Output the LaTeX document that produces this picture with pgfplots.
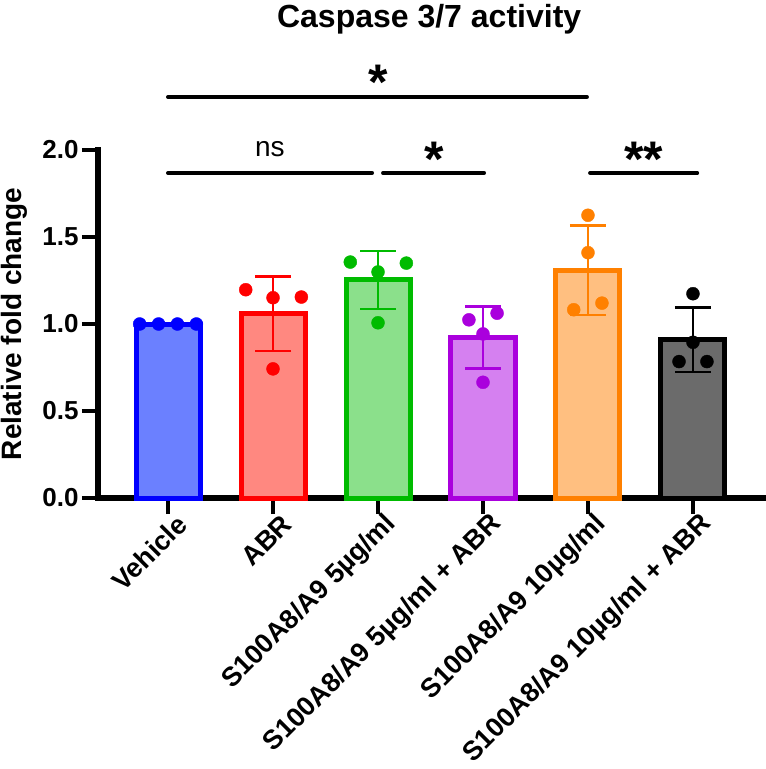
\documentclass[border=0pt]{standalone}
\usepackage{fontspec}
\setmainfont{Liberation Sans}
\usepackage{pgfplots}
\pgfplotsset{compat=1.18}
\definecolor{vehD}{RGB}{0,0,255}
\definecolor{vehF}{RGB}{107,128,255}
\definecolor{abrD}{RGB}{255,0,0}
\definecolor{abrF}{RGB}{255,136,128}
\definecolor{s5D}{RGB}{0,187,0}
\definecolor{s5F}{RGB}{139,224,139}
\definecolor{s5aD}{RGB}{170,0,221}
\definecolor{s5aF}{RGB}{213,128,240}
\definecolor{s10D}{RGB}{255,128,0}
\definecolor{s10F}{RGB}{255,191,128}
\definecolor{s10aD}{RGB}{0,0,0}
\definecolor{s10aF}{RGB}{107,107,107}
\newcommand{\xlblfont}{\fontsize{27}{32}\selectfont\bfseries}
\newcommand{\ylblfont}{\fontsize{26}{31}\selectfont\bfseries}
\begin{document}
\begin{tikzpicture}
\begin{axis}[
  at={(98pt,271pt)}, anchor=south west,
  scale only axis, width=665pt, height=348pt,
  xmin=-0.667, xmax=5.667, ymin=0, ymax=2,
  axis x line*=bottom, axis y line*=left,
  axis line style={line width=5.5pt, line cap=rect},
  clip=false,
  tick align=outside, major tick length=16pt,
  tick style={line width=4pt, black},
  xtick={0,1,2,3,4,5},
  xticklabels={Vehicle, ABR, S100A8/A9 5µg/ml, S100A8/A9 5µg/ml + ABR, S100A8/A9 10µg/ml, S100A8/A9 10µg/ml + ABR},
  xticklabel style={rotate=45, anchor=east, font=\xlblfont, inner sep=2pt, xshift=8pt, yshift=-14pt},
  ytick={0,0.5,1,1.5,2},
  /pgf/number format/assume math mode=true,
  yticklabel={\pgfmathprintnumber[fixed,fixed zerofill,precision=1]{\tick}},
  yticklabel style={font=\ylblfont},
  ylabel={Relative fold change},
  ylabel style={at={(axis description cs:-0.1263,0.5)}, anchor=center, font=\fontsize{28}{33}\selectfont\bfseries},
]
% bars
\addplot[ybar, bar shift=0pt, bar width=64pt, draw=vehD, fill=vehF, line width=5pt] coordinates {(0,1.0)};
\addplot[ybar, bar shift=0pt, bar width=64pt, draw=abrD, fill=abrF, line width=5pt] coordinates {(1,1.06)};
\addplot[ybar, bar shift=0pt, bar width=64pt, draw=s5D, fill=s5F, line width=5pt] coordinates {(2,1.253)};
\addplot[ybar, bar shift=0pt, bar width=64pt, draw=s5aD, fill=s5aF, line width=5pt] coordinates {(3,0.922)};
\addplot[ybar, bar shift=0pt, bar width=64pt, draw=s10D, fill=s10F, line width=5pt] coordinates {(4,1.309)};
\addplot[ybar, bar shift=0pt, bar width=64pt, draw=s10aD, fill=s10aF, line width=5pt] coordinates {(5,0.909)};
% error bars
\addplot[draw=none, mark=none, error bars/.cd, y dir=both, y explicit,
  error bar style={line width=2.5pt, abrD}, error mark options={rotate=90, mark size=18pt, line width=2.5pt, abrD}]
  coordinates {(1,1.06) +- (0,0.214)};
\addplot[draw=none, mark=none, error bars/.cd, y dir=both, y explicit,
  error bar style={line width=2.5pt, s5D}, error mark options={rotate=90, mark size=18pt, line width=2.5pt, s5D}]
  coordinates {(2,1.253) +- (0,0.166)};
\addplot[draw=none, mark=none, error bars/.cd, y dir=both, y explicit,
  error bar style={line width=2.5pt, s5aD}, error mark options={rotate=90, mark size=18pt, line width=2.5pt, s5aD}]
  coordinates {(3,0.922) +- (0,0.179)};
\addplot[draw=none, mark=none, error bars/.cd, y dir=both, y explicit,
  error bar style={line width=2.5pt, s10D}, error mark options={rotate=90, mark size=18pt, line width=2.5pt, s10D}]
  coordinates {(4,1.309) +- (0,0.257)};
\addplot[draw=none, mark=none, error bars/.cd, y dir=both, y explicit,
  error bar style={line width=2.5pt, s10aD}, error mark options={rotate=90, mark size=18pt, line width=2.5pt, s10aD}]
  coordinates {(5,0.909) +- (0,0.186)};
% points
\addplot[only marks, mark=*, mark size=6.5pt, color=vehD] coordinates {(-0.27,1.0) (-0.09,1.0) (0.09,1.0) (0.27,1.0)};
\addplot[only marks, mark=*, mark size=6.5pt, color=abrD] coordinates {(0.74,1.197) (1,1.151) (1.27,1.155) (1,0.742)};
\addplot[only marks, mark=*, mark size=6.5pt, color=s5D] coordinates {(1.736,1.356) (2,1.299) (2.27,1.350) (2,1.007)};
\addplot[only marks, mark=*, mark size=6.5pt, color=s5aD] coordinates {(2.866,1.024) (3.134,1.062) (3,0.943) (3,0.665)};
\addplot[only marks, mark=*, mark size=6.5pt, color=s10D] coordinates {(3.864,1.082) (4.133,1.120) (4,1.410) (4,1.625)};
\addplot[only marks, mark=*, mark size=6.5pt, color=s10aD] coordinates {(5,1.174) (5,0.895) (4.867,0.784) (5.133,0.784)};
% significance lines
\addplot[line width=4pt, black, line cap=round] coordinates {(0,2.305) (3.99,2.305)};
\addplot[line width=4pt, black, line cap=round] coordinates {(0,1.868) (1.943,1.868)};
\addplot[line width=4pt, black, line cap=round] coordinates {(2.048,1.868) (3.01,1.868)};
\addplot[line width=4pt, black, line cap=round] coordinates {(4.02,1.868) (5.04,1.868)};
\node[anchor=north, inner sep=0pt, font=\fontsize{50}{52}\selectfont\bfseries] at (axis cs:2,2.489) {*};
\node[anchor=north, inner sep=0pt, font=\fontsize{50}{52}\selectfont\bfseries] at (axis cs:2.54,2.046) {*};
\node[anchor=north, inner sep=0pt, font=\fontsize{50}{52}\selectfont\bfseries] at (axis cs:4.53,2.046) {**};
\node[anchor=base, inner sep=0pt, font=\fontsize{28}{32}\selectfont] at (axis cs:0.97,1.96) {ns};
\node[anchor=base, inner sep=0pt, font=\fontsize{32}{38}\selectfont\bfseries] at (axis description cs:0.498,1.3534) {Caspase 3/7 activity};
\end{axis}
\pgfresetboundingbox
\path[use as bounding box] (0,0) rectangle (766pt,769pt);
\end{tikzpicture}
\end{document}
